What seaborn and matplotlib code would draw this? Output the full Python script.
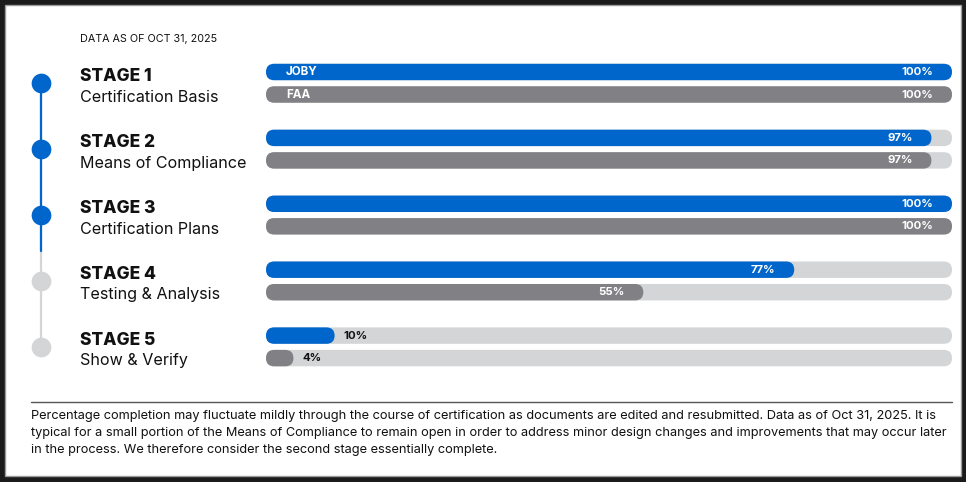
import pandas as pd
import numpy as np
import matplotlib.pyplot as plt
import matplotlib.transforms as mtrans
from matplotlib.patches import FancyBboxPatch, Rectangle
import seaborn as sb

# Chart data
stages = ['STAGE 1', 'STAGE 2', 'STAGE 3', 'STAGE 4', 'STAGE 5']
stage_names = ['Certification Basis', 'Means of Compliance', 'Certification Plans',
               'Testing & Analysis', 'Show & Verify']
orgs = ['JOBY', 'FAA']
joby_pct = [100, 97, 100, 77, 10]
faa_pct = [100, 97, 100, 55, 4]
stage_done = [True, True, True, False, False]
date_note = 'DATA AS OF OCT 31, 2025'
footnote = ("Percentage completion may fluctuate mildly through the course of certification as documents are edited and resubmitted. Data as of Oct 31, 2025. It is\n"
            "typical for a small portion of the Means of Compliance to remain open in order to address minor design changes and improvements that may occur later\n"
            "in the process. We therefore consider the second stage essentially complete.")

# Colours
BLUE = '#0066CC'
GREY = '#818185'
TRACK = '#D4D5D7'
INK = '#111111'

# Long dataframe for seaborn.
df = pd.DataFrame({
    'stage': stages * 2,
    'org': [orgs[0]] * 5 + [orgs[1]] * 5,
    'pct': joby_pct + faa_pct,
})
df['track'] = 100

sb.set_theme(style='white')
plt.rcParams['font.family'] = ['Inter', 'DejaVu Sans']

W, H = 966, 482
fig = plt.figure(figsize=(W / 100, H / 100), dpi=100, facecolor='#1b1b1b')

# Background axes in pixel coordinates.
bg = fig.add_axes([0, 0, 1, 1])
bg.set_xlim(0, W)
bg.set_ylim(H, 0)
bg.axis('off')
bg.add_patch(Rectangle((5, 5), 956, 471, facecolor='white', edgecolor='#9a9a9a', lw=1))

# Bar axes layout (pixels).
bx0, bx1 = 266, 952
top_px, first_px, step_px, bot_px = 40, 83.25, 65.9, 390
ax = fig.add_axes([bx0 / W, (H - bot_px) / H, (bx1 - bx0) / W, (bot_px - top_px) / H])
ax.patch.set_alpha(0)

kw = dict(orient='h', width=0.683, gap=0.27, dodge=True, errorbar=None, legend=False,
          saturation=1, ax=ax)
sb.barplot(data=df, x='track', y='stage', hue='org', palette=[TRACK, TRACK], **kw)
n_track = len(ax.patches)
sb.barplot(data=df, x='pct', y='stage', hue='org', palette=[BLUE, GREY], **kw)

ax.set_xlim(0, 100)
ax.set_ylim(4 + (bot_px - first_px - 4 * step_px) / step_px, -(first_px - top_px) / step_px)
ax.axis('off')

# Replace rectangles with pill shapes.
m_aspect = (1 / step_px) / (100 / (bx1 - bx0))
for i, p in enumerate(list(ax.patches)):
    x, y, w, h = p.get_x(), p.get_y(), p.get_width(), p.get_height()
    fc = p.get_facecolor()
    p.remove()
    r = h / m_aspect / 2
    ax.add_patch(FancyBboxPatch((x, y), w, h, boxstyle=f'round,pad=0,rounding_size={r}',
                                mutation_aspect=m_aspect, facecolor=fc, edgecolor='none',
                                zorder=1 if i < n_track else 2))

# Bar row positions (same as seaborn dodge).
off = 0.683 / 4
for si in range(len(stages)):
    for oi, vals in enumerate([joby_pct, faa_pct]):
        yv = si + (-off if oi == 0 else off)
        v = vals[si]
        if v >= 20:
            ax.annotate(f'{v}%', (v, yv), xytext=(-19, 0), textcoords='offset pixels',
                        ha='right', va='center', color='white', fontsize=8.2,
                        fontweight='bold', zorder=3)
        else:
            ax.annotate(f'{v}%', (v, yv), xytext=(9, 0), textcoords='offset pixels',
                        ha='left', va='center', color=INK, fontsize=8.2,
                        fontweight='bold', zorder=3)
        if si == 0:
            ax.annotate(orgs[oi], (0, yv), xytext=(20, 0), textcoords='offset pixels',
                        ha='left', va='center', color='white', fontsize=8.4,
                        fontweight='bold', zorder=3)

# Stage labels and timeline.
blend = mtrans.blended_transform_factory(bg.transData, ax.transData)
for si in range(len(stages)):
    bg.annotate(stages[si], (80, si), xycoords=blend, xytext=(0, 2), textcoords='offset pixels',
                ha='left', va='baseline', fontsize=12.5, fontweight='heavy', color=INK)
    bg.annotate(stage_names[si], (80, si), xycoords=blend, xytext=(0, -18.5),
                textcoords='offset pixels', ha='left', va='baseline', fontsize=11.6, color=INK)

n_done = sum(stage_done)
bg.plot([41, 41], [0, len(stages) - 1], transform=blend, color=TRACK, lw=1.6, zorder=1)
bg.plot([41, 41], [0, n_done - 0.45], transform=blend, color=BLUE, lw=1.6, zorder=2)
for si, done in enumerate(stage_done):
    bg.plot([41], [si], transform=blend, marker='o', ms=14.2, mew=0,
            color=BLUE if done else TRACK, zorder=3)

# Header, rule and footnote.
bg.text(80, 42, date_note, ha='left', va='baseline', fontsize=7.75, color=INK)
bg.plot([31, 952], [401.5, 401.5], color='#555555', lw=1)
bg.text(31, 410.5, footnote, ha='left', va='top', fontsize=9.2, color=INK, linespacing=1.5)

fig.savefig('out.png', dpi=100, facecolor=fig.get_facecolor())
